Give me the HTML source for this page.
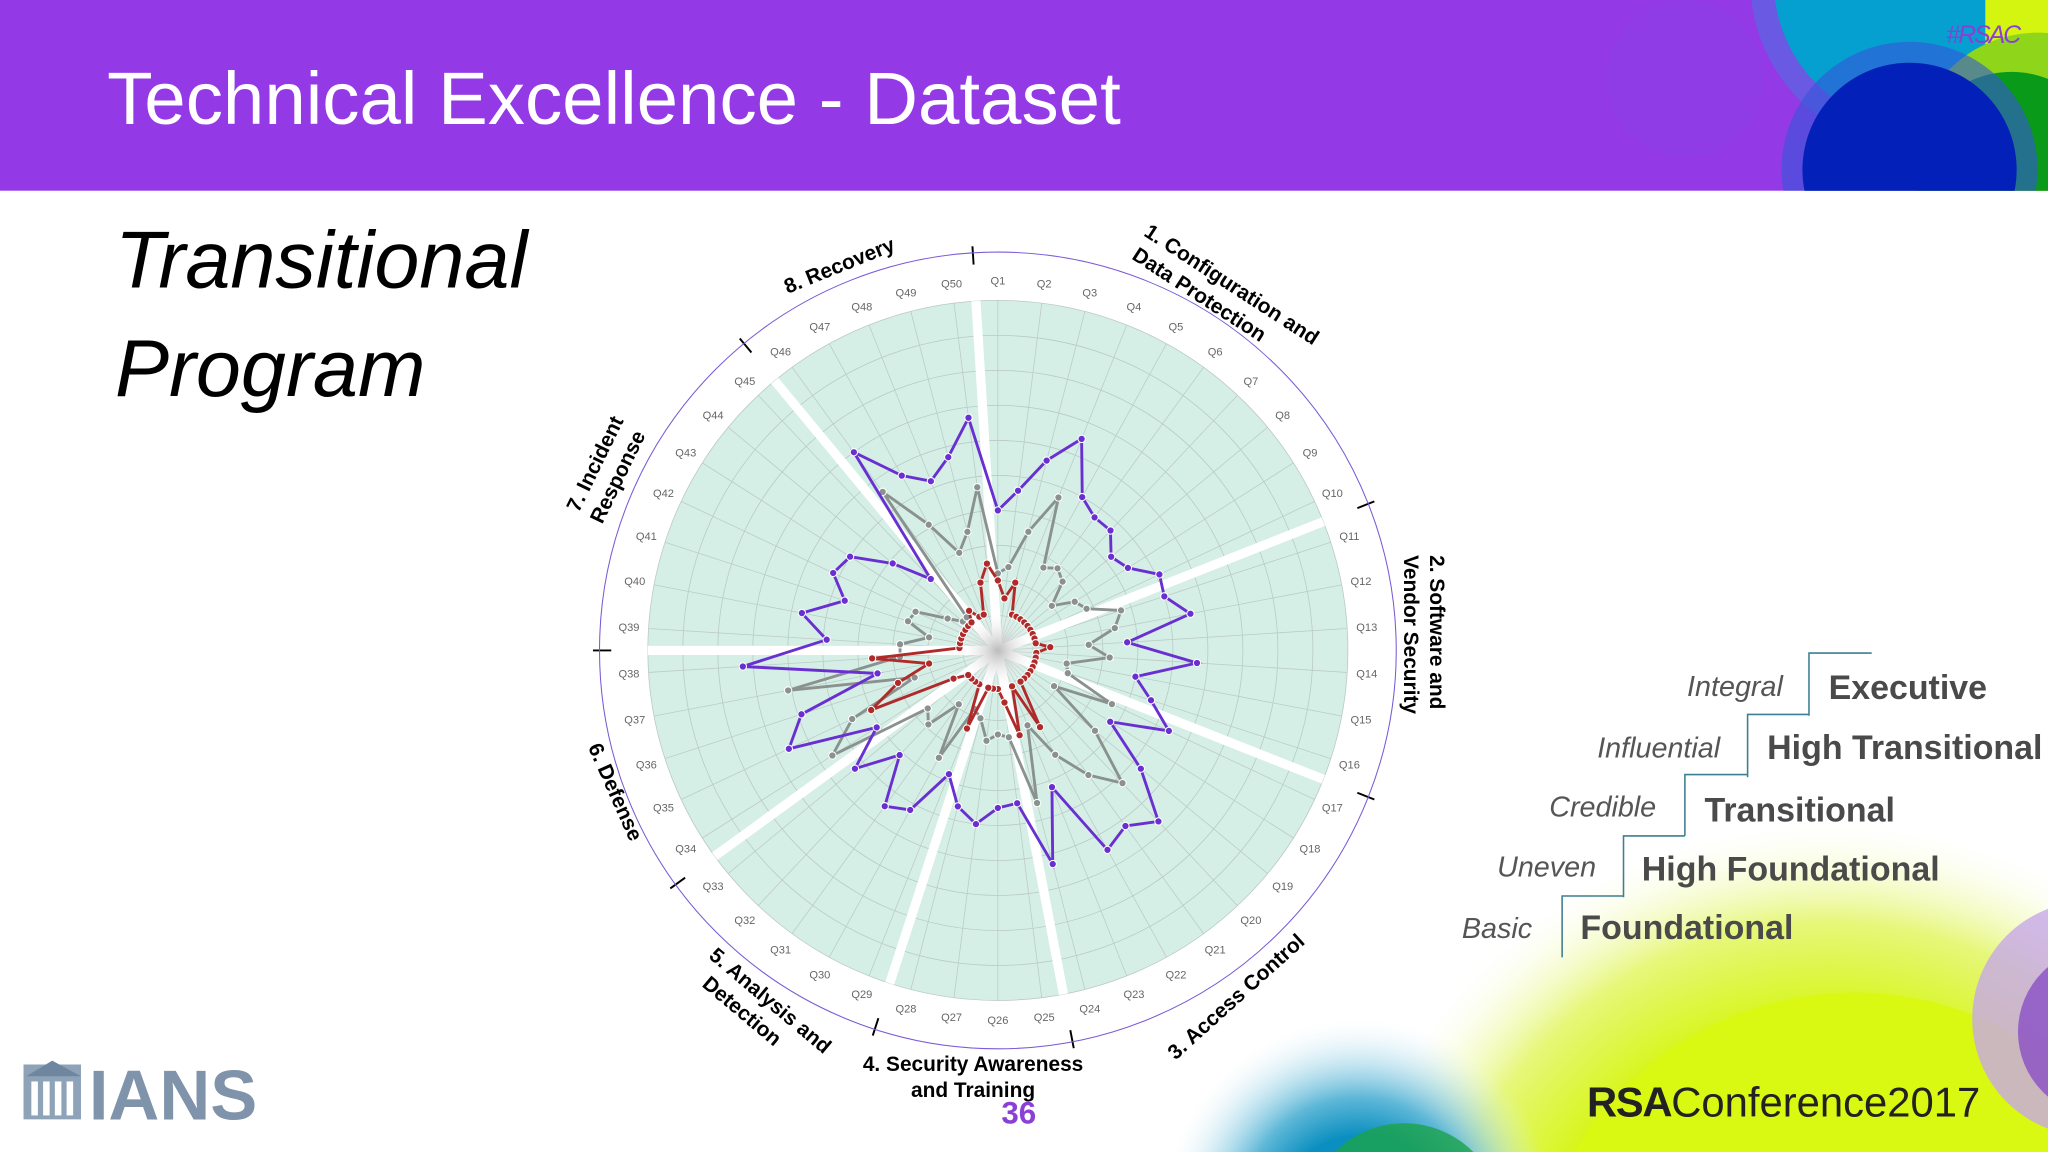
<!DOCTYPE html>
<html><head><meta charset="utf-8"><style>
html,body{margin:0;padding:0;background:#fff;width:2048px;height:1152px;overflow:hidden;}
svg{display:block;}
text{font-family:"Liberation Sans",sans-serif;}
</style></head><body>
<svg id="root" width="2048" height="1152" viewBox="0 0 1568 882" xmlns="http://www.w3.org/2000/svg">
<defs>
<radialGradient id="yg" cx="0.5" cy="0.5" r="0.5">
<stop offset="0.6" stop-color="#d6f514"/><stop offset="0.8" stop-color="#e6f77a"/><stop offset="1" stop-color="#fbfde8" stop-opacity="0"/>
</radialGradient>
<radialGradient id="bl" cx="0.5" cy="0.5" r="0.5">
<stop offset="0.4" stop-color="#0a8fc0"/><stop offset="0.6" stop-color="#5fb8d8"/><stop offset="1" stop-color="#e8f6fb" stop-opacity="0"/>
</radialGradient>
<radialGradient id="ctr" cx="0.5" cy="0.5" r="0.5">
<stop offset="0" stop-color="#bbb"/><stop offset="1" stop-color="#fff" stop-opacity="0"/>
</radialGradient>
<clipPath id="hdr"><rect x="0" y="0" width="1568" height="146"/></clipPath>
<clipPath id="slide"><rect x="0" y="0" width="1568" height="882"/></clipPath>
</defs>

<g>
<rect x="0" y="0" width="1568" height="146" fill="#9339e6"/>
<g clip-path="url(#hdr)">
<circle cx="1290" cy="60" r="60" fill="#8c3ee6" opacity="0.5"/>
<circle cx="1470" cy="-15" r="130" fill="#4f6fe0" opacity="0.6"/>
<circle cx="1470" cy="-15" r="112" fill="#05a0cf"/>
<rect x="1520" y="0" width="48" height="146" fill="#d4f50f"/>
<circle cx="1560" cy="120" r="95" fill="#8fd61a"/>
<circle cx="1540" cy="130" r="75" fill="#0a9a1a"/>
<circle cx="1462" cy="130" r="98" fill="#3356d8" opacity="0.6"/>
<circle cx="1462" cy="130" r="82" fill="#0320b8"/>
</g>
<text x="82" y="95" font-family="Liberation Sans" font-size="57" fill="#fff">Technical Excellence - Dataset</text>
<text x="1546" y="33" text-anchor="end" font-size="19" font-style="italic" fill="#8a3fd6" letter-spacing="-1.5">#RSAC</text>
</g>

<g clip-path="url(#slide)">
<circle cx="1400" cy="1010" r="380" fill="url(#yg)"/>
<circle cx="1420" cy="1010" r="250" fill="#d9f812"/>
<circle cx="1600" cy="780" r="90" fill="#c7a8e8" opacity="0.8"/>
<circle cx="1610" cy="790" r="65" fill="#8a4fc6" opacity="0.8"/>
<circle cx="1040" cy="930" r="150" fill="url(#bl)"/>
<circle cx="1075" cy="935" r="75" fill="#1ca34a" opacity="0.8"/>
</g>

<text x="88" y="220" font-size="62" font-style="italic" fill="#000">Transitional</text>
<text x="88" y="303" font-size="62" font-style="italic" fill="#000">Program</text>

<g>
<rect x="18" y="815" width="44" height="42" fill="#8fa3b8"/>
<path d="M20 824 L40 812 L62 824 Z" fill="#6f86a0"/>
<rect x="24" y="828" width="5" height="26" fill="#fff"/><rect x="33" y="828" width="5" height="26" fill="#fff"/><rect x="42" y="828" width="5" height="26" fill="#fff"/><rect x="51" y="828" width="5" height="26" fill="#fff"/>
<text x="68" y="857" font-family="Liberation Serif" font-weight="bold" font-size="54" fill="#7f93ab">IANS</text>
</g>
<text x="1215" y="855" font-size="32" font-weight="bold" fill="#222" letter-spacing="-1">RSA<tspan font-weight="normal" letter-spacing="0">Conference2017</tspan></text>
<text x="780" y="860" text-anchor="middle" font-size="24" font-weight="bold" fill="#8a3fd6">36</text>

<g fill="none" stroke="#3d7f92" stroke-width="1.2">
<path d="M1385 548 V500 H1433"/>
<path d="M1338 595 V547 H1385"/>
<path d="M1290 640 V593 H1338"/>
<path d="M1243 687 V640 H1290"/>
<path d="M1196 733 V686 H1243"/>
</g>
<g font-size="22" font-style="italic" fill="#555" text-anchor="end">
<text x="1365" y="533">Integral</text>
<text x="1317" y="580">Influential</text>
<text x="1268" y="625">Credible</text>
<text x="1222" y="671">Uneven</text>
<text x="1173" y="718">Basic</text>
</g>
<g font-size="26" font-weight="bold" fill="#4a4a4a">
<text x="1400" y="535">Executive</text>
<text x="1353" y="581">High Transitional</text>
<text x="1305" y="629">Transitional</text>
<text x="1257" y="674">High Foundational</text>
<text x="1210" y="719">Foundational</text>
</g>

<g id="chart"></g>

<g font-size="16" font-weight="bold" fill="#000">
<text transform="translate(875,180) rotate(33)"><tspan x="0" y="0">1. Configuration and</tspan><tspan x="2" y="20">Data Protection</tspan></text>
<text transform="translate(1095,425) rotate(90)"><tspan x="0" y="0">2. Software and</tspan><tspan x="0" y="20">Vendor Security</tspan></text>
<text transform="translate(900,812) rotate(-42)">3. Access Control</text>
<text text-anchor="middle"><tspan x="745" y="820">4. Security Awareness</tspan><tspan x="745" y="840">and Training</tspan></text>
<text transform="translate(542,733) rotate(40)"><tspan x="0" y="0">5. Analysis and</tspan><tspan x="10" y="20">Detection</tspan></text>
<text transform="translate(450,572) rotate(66)">6. Defense</text>
<text transform="translate(443,393) rotate(-64)"><tspan x="0" y="0">7. Incident</tspan><tspan x="0" y="20">Response</tspan></text>
<text transform="translate(603,225) rotate(-22)">8. Recovery</text>
</g>
</svg>
<script>
const questions = Array.from({length:50},(_,i)=>'Q'+(i+1));
const groupEnds = [10,16,24,28,33,38,45,50];
const executiveSeries = [.40,.46,.56,.65,.50,.47,.47,.42,.44,.51,.50,.56,.37,.57,.40,.46,.54,.38,.53,.67,.62,.65,.42,.63,.44,.45,.50,.46,.38,.52,.55,.41,.53,.41,.66,.59,.35,.73,.49,.57,.46,.52,.50,.39,.28,.70,.57,.52,.57,.67];
const industrySeries = [.22,.24,.35,.47,.27,.29,.27,.20,.26,.28,.37,.34,.26,.32,.20,.21,.36,.19,.36,.52,.44,.34,.23,.45,.25,.24,.26,.20,.18,.35,.19,.29,.26,.56,.46,.25,.61,.28,.28,.20,.27,.26,.17,.13,.13,.56,.41,.30,.35,.47];
const programSeries = [.20,.15,.20,.11,.11,.11,.11,.11,.11,.11,.11,.11,.15,.11,.11,.11,.11,.11,.11,.11,.11,.25,.11,.25,.15,.11,.11,.11,.24,.11,.11,.11,.11,.15,.40,.30,.20,.36,.11,.11,.11,.11,.11,.11,.11,.14,.11,.11,.20,.25];
const NS='http://www.w3.org/2000/svg';
const CX=764, CY=498, R=268;
const g=document.getElementById('chart');
function ang(i){return i*7.2*Math.PI/180;}
function px(i,v){return CX+Math.sin(ang(i))*v*R;}
function py(i,v){return CY-Math.cos(ang(i))*v*R;}
function mk(t,a){const e=document.createElementNS(NS,t);for(const k in a)e.setAttribute(k,a[k]);g.appendChild(e);return e;}
let e=mk('circle',{cx:CX,cy:CY,r:R,fill:'#d5efe7'});


for(let k=1;k<=10;k++){e=mk('circle',{cx:CX,cy:CY,r:R*k/10,fill:'none',stroke:'#b9c9c4','stroke-width':0.6});

}
questions.forEach((q,i)=>{e=mk('line',{x1:CX,y1:CY,x2:px(i,1),y2:py(i,1),stroke:'#bccbc6','stroke-width':0.6});


const lx=CX+Math.sin(ang(i))*283, ly=CY-Math.cos(ang(i))*283+3;
e=mk('text',{x:lx,y:ly,'text-anchor':'middle','font-size':8.5,fill:'#666'});e.textContent=q;

});
groupEnds.forEach(n=>{const a=(n-0.5)*7.2*Math.PI/180;
e=mk('line',{x1:CX,y1:CY,x2:CX+Math.sin(a)*R,y2:CY-Math.cos(a)*R,stroke:'#fff','stroke-width':7});


e=mk('line',{x1:CX+Math.sin(a)*296,y1:CY-Math.cos(a)*296,x2:CX+Math.sin(a)*310,y2:CY-Math.cos(a)*310,stroke:'#000','stroke-width':1.5});

});
e=mk('circle',{cx:CX,cy:CY,r:305,fill:'none',stroke:'#7a5ad6','stroke-width':0.8});


e=mk('circle',{cx:CX,cy:CY,r:30,fill:'url(#ctr)'});


function series(vals,color,name){
 const pts=vals.map((v,i)=>px(i,v).toFixed(1)+','+py(i,v).toFixed(1)).join(' ');
 let p=mk('polygon',{points:pts,fill:'none',stroke:color,'stroke-width':2.2});
 
 
 vals.forEach((v,i)=>{let c=mk('circle',{cx:px(i,v),cy:py(i,v),r:2.8,fill:color,stroke:'#fff','stroke-width':0.8});
 
 });
}
series(industrySeries,'#8a918f','industry-series');
series(executiveSeries,'#6a2fd0','executive-series');
series(programSeries,'#b02a2a','program-series');
</script>
</body></html>
